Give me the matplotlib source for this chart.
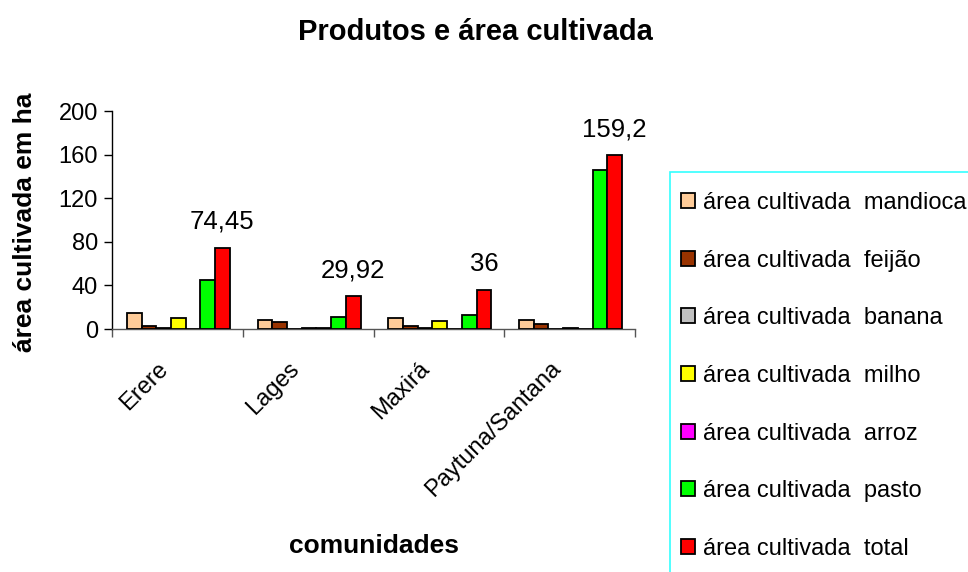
import matplotlib
matplotlib.use("Agg")
import matplotlib.pyplot as plt
from matplotlib.patches import Rectangle
import matplotlib.transforms as mtransforms
import numpy as np

plt.rcParams['font.family'] = ['Liberation Sans', 'DejaVu Sans']

categories = ["Erere", "Lages", "Maxirá", "Paytuna/Santana"]
series_names = ["área cultivada  mandioca", "área cultivada  feijão",
                "área cultivada  banana", "área cultivada  milho",
                "área cultivada  arroz", "área cultivada  pasto",
                "área cultivada  total"]
mandioca = [15, 8, 10, 8]
feijao = [3, 6.5, 3, 5]
banana = [1, 0, 1, 0]
milho = [10, 1, 7, 1]
arroz = [0, 1, 0, 0]
pasto = [45, 11, 13, 145.5]
total = [74.45, 29.92, 36, 159.2]
series_values = [mandioca, feijao, banana, milho, arroz, pasto, total]
colors = ["#FFCC99", "#993300", "#C0C0C0", "#FFFF00", "#FF00FF", "#00FF00", "#FF0000"]
yticks = [0, 40, 80, 120, 160, 200]

W, H = 968, 572
fig = plt.figure(figsize=(W / 100, H / 100), dpi=100)
ax = fig.add_axes([112 / W, 1 - 329 / H, (635 - 112) / W, (329 - 111) / H])

x = np.arange(len(categories))
bw = 0.1125
n = len(series_values)
handles = []
for i, (vals, col, name) in enumerate(zip(series_values, colors, series_names)):
    offs = (i - (n - 1) / 2) * bw + 0.007
    b = ax.bar(x + offs, vals, width=bw, color=col, edgecolor="black",
               linewidth=1.3, label=name, zorder=3)
    handles.append(b)
    if i == n - 1:
        for xi, v in zip(x + offs, vals):
            ax.annotate(f"{v:g}".replace(".", ","), (xi, v), xytext=(0, 10),
                        textcoords="offset points", ha="center", va="bottom",
                        fontsize=18.5)

ax.set_xlim(-0.5, len(categories) - 0.5)
ax.set_ylim(0, 200)
ax.set_yticks(yticks)
ax.set_yticklabels([str(t) for t in yticks], fontsize=17)
ax.set_xticks(x)
ax.set_xticklabels(categories, rotation=45, ha="right", rotation_mode="anchor",
                   fontsize=17)
ax.tick_params(axis="x", which="major", length=0, pad=12)
shift = mtransforms.ScaledTranslation(-20 / 100, -12 / 100, fig.dpi_scale_trans)
for lab in ax.get_xticklabels():
    lab.set_transform(lab.get_transform() + shift)
ax.set_xticks(np.arange(-0.5, len(categories), 1.0), minor=True)
ax.tick_params(axis="x", which="minor", length=6, width=1, direction="out",
               color="#555555")
ax.tick_params(axis="y", length=6, width=1, direction="out", pad=4)
for s in ["top", "right"]:
    ax.spines[s].set_visible(False)
ax.spines["left"].set_linewidth(1)
ax.spines["bottom"].set_color("#555555")
ax.spines["bottom"].set_linewidth(1)

ax.set_ylabel("área cultivada em ha", fontsize=19, fontweight="bold", va="center")
ax.yaxis.set_label_coords((25 - 112) / 523, (329 - 222) / 218)
ax.set_xlabel("comunidades", fontsize=19, fontweight="bold", va="center")
ax.xaxis.set_label_coords(0.5, -(546 - 329) / 218)

fig.text(475 / W, 1 - 32 / H, "Produtos e área cultivada", fontsize=21,
         fontweight="bold", ha="center", va="center")

# legend box
fig.patches.append(Rectangle((670 / W, -0.05), 0.4, 1 - 172 / H + 0.05,
                             transform=fig.transFigure, fill=False,
                             edgecolor="#33FFFF", linewidth=1.2))
fig.legend(handles=handles, loc="upper left",
           bbox_to_anchor=(681 / W, 1 - 192 / H), frameon=False, fontsize=17,
           handlelength=0.6, handleheight=0.6, handletextpad=0.35,
           labelspacing=1.51, borderpad=0, borderaxespad=0)

fig.savefig("out.png", dpi=100)
